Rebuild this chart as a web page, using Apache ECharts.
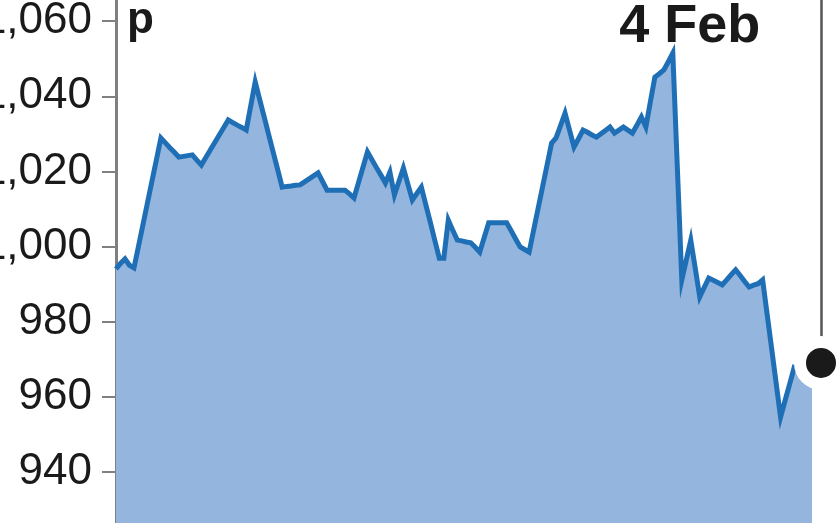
<!DOCTYPE html>
<html>
<head>
<meta charset="utf-8">
<script src="https://cdn.jsdelivr.net/npm/echarts@6/dist/echarts.min.js"></script>
<style>
  html, body { margin: 0; padding: 0; background: #fff; width: 839px; height: 523px; overflow: hidden; position: relative; }
  /* chart is a bit taller than the window so the 920 / 1080 ends of the axis fall off the edges */
  #priceChart { position: absolute; left: 0; top: -54px; width: 839px; height: 601px; }
</style>
</head>
<body>
<div id="priceChart"></div>
<script>
// share price in pence
const prices = [
    994, 995.5, 996.7, 995, 994.3, 1000, 1005.8, 1011.6, 1017.4, 1023.1,
    1028.9, 1027.6, 1026.3, 1025.1, 1023.8, 1024, 1024.2, 1024.4, 1023, 1021.7,
    1023.7, 1025.7, 1027.7, 1029.7, 1031.7, 1033.7, 1033, 1032.3, 1031.7, 1031,
    1037.4, 1043.8, 1039.1, 1034.5, 1029.8, 1025.1, 1020.5, 1015.8, 1016, 1016.1,
    1016.3, 1016.4, 1017.2, 1018, 1018.8, 1019.6, 1017.3, 1015, 1015, 1015,
    1015, 1015, 1014, 1012.9, 1017, 1021.1, 1025.2, 1023.1, 1021, 1019,
    1016.9, 1019.8, 1013.7, 1017.3, 1020.9, 1016.6, 1012.4, 1014.1, 1015.8, 1011.1,
    1006.4, 1001.6, 996.9, 996.9, 1007, 1004.3, 1001.7, 1001.5, 1001.2, 1001,
    999.8, 998.5, 1002.4, 1006.3, 1006.3, 1006.3, 1006.3, 1006.3, 1004.2, 1002,
    999.9, 999.2, 998.5, 1004.3, 1010.1, 1015.9, 1021.7, 1027.5, 1028.9, 1032.2,
    1035.5, 1031, 1026.5, 1028.7, 1031, 1030.4, 1029.7, 1029.1, 1030, 1030.9,
    1031.8, 1030.2, 1031, 1031.8, 1031, 1030.2, 1032.3, 1034.5, 1031.8, 1038.5,
    1045.1, 1046, 1047, 1049.2, 1051.5, 1021.3, 991.1, 996.4, 1001.7, 994.2,
    986.6, 989.1, 991.6, 991, 990.4, 989.8, 991.1, 992.5, 993.8, 992.3,
    990.7, 989.2, 989.7, 990.1, 991.1, 982, 972.9, 963.7, 954.6, 959,
    963.3, 967.7, 967, 966.5, 966, 965.5
];
const latestPrice = 969;
const peakLabel = '4 Feb';
const yTicks = [940, 960, 980, 1000, 1020, 1040, 1060];

// two spare slots after the last price: the latest-price dot sits on the final one
const categories = [];
for (let i = 0; i < prices.length + 2; i++) categories.push(String(i));
const lastIdx = categories.length - 1;
const dotData = categories.map((c, i) => (i === lastIdx ? latestPrice : '-'));

const yMin = 920, yMax = 1080;
const sansFont = '"Liberation Sans", Arial, sans-serif';

let chartDom = document.getElementById('priceChart');
let chart = echarts.init(chartDom);

let option = {
    animation: false,
    backgroundColor: '#fff',
    title: {
        text: 'p',
        left: 122,
        top: 48,
        textStyle: {
            fontFamily: sansFont,
            fontSize: 44,
            fontWeight: 'bold',
            color: '#1a1a1a'
        }
    },
    grid: {
        left: 116,
        right: 18,
        top: 0,
        bottom: 0,
        outerBoundsMode: 'none'
    },
    xAxis: {
        type: 'category',
        data: categories,
        boundaryGap: false,
        show: false
    },
    yAxis: {
        type: 'value',
        min: yMin,
        max: yMax,
        interval: 20,
        splitLine: { show: false },
        axisLine: { show: true, lineStyle: { color: '#808080', width: 3 } },
        axisTick: { show: true, length: 14, lineStyle: { color: '#808080', width: 2 } },
        axisLabel: {
            margin: 24,
            color: '#1a1a1a',
            fontSize: 44,
            fontFamily: sansFont,
            formatter: v => (yTicks.indexOf(v) >= 0 ? v.toLocaleString('en-GB') : '')
        }
    },
    series: [
        {
            name: 'price',
            type: 'line',
            data: prices,
            showSymbol: false,
            lineStyle: { color: '#1f6fb6', width: 5, join: 'miter' },
            areaStyle: { color: '#94b5dd', opacity: 1, origin: 'start' },
            markPoint: {
                symbol: 'circle',
                symbolSize: 0,
                data: [{ type: 'max' }],
                label: {
                    show: true,
                    position: 'top',
                    offset: [17, 6],
                    formatter: peakLabel,
                    fontFamily: sansFont,
                    fontSize: 54,
                    fontWeight: 'bold',
                    color: '#1a1a1a'
                }
            },
            z: 2
        },
        {
            name: 'latest',
            type: 'line',
            data: dotData,
            showSymbol: true,
            showAllSymbol: true,
            symbol: 'circle',
            symbolSize: 42,
            itemStyle: { color: '#1a1a1a', borderColor: '#fff', borderWidth: 12 },
            lineStyle: { width: 0 },
            markLine: {
                silent: true,
                symbol: 'none',
                label: { show: false },
                lineStyle: { color: '#555', width: 2.5, type: 'solid' },
                data: [[{ coord: [lastIdx, latestPrice] }, { coord: [lastIdx, yMax] }]]
            },
            z: 5
        }
    ]
};
chart.setOption(option);
</script>
</body>
</html>
